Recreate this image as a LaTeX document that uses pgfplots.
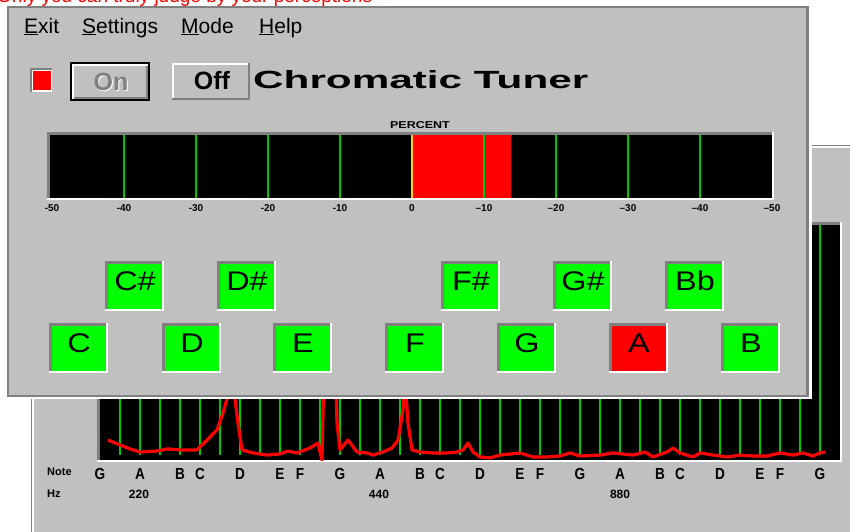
\documentclass[border=0pt]{standalone}
\usepackage{pgfplots}
\pgfplotsset{compat=1.18}
\usepackage{pgfplotstable}
\usepackage{graphicx}
\usepackage{fontspec}
\setmainfont{Liberation Sans}
\definecolor{win}{HTML}{C0C0C0}
\definecolor{dgray}{HTML}{808080}
\definecolor{bgreen}{HTML}{00FF00}
\definecolor{lgreen}{HTML}{00C800}
\definecolor{wred}{HTML}{FF0000}
\definecolor{wyel}{HTML}{FFD200}

\pgfplotstableread{
n a
0.4 0.085
1.0 0.064
1.5 0.047
2.0 0.034
2.85 0.038
3.35 0.047
4.0 0.043
4.85 0.043
5.35 0.085
5.85 0.128
6.15 0.2
6.35 0.26
6.55 1.0
6.75 0.26
6.9 0.157
7.1 0.043
7.65 0.03
8.35 0.021
9.0 0.026
9.4 0.038
9.85 0.03
10.5 0.051
10.9 0.072
11.1 0.0
11.25 0.6
11.45 1.0
11.7 0.6
11.85 0.157
12.0 0.043
12.4 0.085
12.85 0.034
13.35 0.03
13.65 0.021
14.15 0.034
14.6 0.051
14.9 0.085
15.15 0.213
15.25 0.35
15.4 0.157
15.6 0.043
16.0 0.034
16.65 0.03
17.35 0.03
17.85 0.034
18.15 0.043
18.4 0.072
18.65 0.034
19.0 0.013
19.5 0.009
20.0 0.021
21.0 0.03
21.65 0.013
22.35 0.013
23.0 0.017
23.5 0.03
24.0 0.017
25.0 0.021
25.65 0.03
26.65 0.021
27.25 0.034
27.65 0.013
28.35 0.034
28.65 0.051
29.0 0.03
29.65 0.013
30.0 0.03
30.65 0.021
31.35 0.013
32.0 0.021
32.65 0.017
33.35 0.017
34.0 0.03
34.65 0.021
35.15 0.03
35.65 0.017
36.0 0.03
36.25 0.034
}\spec

\newcommand{\notebtn}[4]{%
  \fill[white] (#1,-#2) rectangle ++(59,-50);
  \fill[dgray] (#1,-#2) rectangle ++(57,-48);
  \fill[#4] ({#1+3},{-#2-3}) rectangle ({#1+57},{-#2-48});
  \node[inner sep=0pt, font=\fontsize{27}{27}\selectfont] at ({#1+30},{-#2-20}) {\scalebox{1.2}[1]{#3}};
}

\begin{document}
\begin{tikzpicture}[x=1pt,y=1pt]
\fill[white] (0,0) rectangle (850,-531);
\useasboundingbox (0,0) rectangle (850,-531);
% cut red text at the very top
\begin{scope}
\clip (0,0) rectangle (850,-8);
\node[anchor=base west, inner sep=0pt, text=wred, font=\fontsize{19}{19}\selectfont] at (-3,-2.5) {Only you can truly judge by your perceptions};
\end{scope}
% back window
\fill[dgray] (31,-145) rectangle (852,-535);
\fill[white] (32,-146) rectangle (852,-535);
\fill[win] (34,-148) rectangle (852,-535);
% spectrum bevel
\fill[white] (97,-222) rectangle (842,-462);
\fill[dgray] (97,-222) rectangle (840,-460);
\begin{axis}[at={(100pt,-225pt)}, anchor=north west, scale only axis,
  width=740pt, height=235pt, xmin=0, xmax=37, ymin=0, ymax=1,
  axis background/.style={fill=black}, axis line style={draw=none},
  tick style={draw=none}, ytick=\empty,
  xtick={0,2,4,5,7,9,10,12,14,16,17,19,21,22,24,26,28,29,31,33,34,36},
  xticklabels={G,A,B,C,D,E,F,G,A,B,C,D,E,F,G,A,B,C,D,E,F,G},
  xticklabel style={font=\bfseries\fontsize{16}{16}\selectfont, inner sep=0pt, anchor=north, yshift=-8pt, xscale=0.85}]
\pgfplotsinvokeforeach{1,...,36}{\addplot[lgreen, line width=2.1pt] coordinates {(#1,0.021) (#1,1)};}
\addplot[wred, line width=3.2pt, line join=round] table[x=n,y=a] {\spec};
\end{axis}
\node[anchor=north west, inner sep=0pt, font=\bfseries\fontsize{11}{11}\selectfont] at (47,-468) {Note};
\node[anchor=north west, inner sep=0pt, font=\bfseries\fontsize{11}{11}\selectfont] at (47,-490) {Hz};
\node[anchor=north, inner sep=0pt, font=\bfseries\fontsize{12}{12}\selectfont] at (139,-490) {220};
\node[anchor=north, inner sep=0pt, font=\bfseries\fontsize{12}{12}\selectfont] at (379,-490) {440};
\node[anchor=north, inner sep=0pt, font=\bfseries\fontsize{12}{12}\selectfont] at (620,-490) {880};
% front window
\fill[white] (7,-6) rectangle (812,-399);
\fill[dgray] (7,-6) rectangle (809,-397);
\fill[win] (9,-8) rectangle (806,-395);
% menu
\node[anchor=base west, inner sep=0pt, font=\fontsize{21}{21}\selectfont] at (24,-33) {\underline{E}xit};
\node[anchor=base west, inner sep=0pt, font=\fontsize{21}{21}\selectfont] at (82,-33) {\underline{S}ettings};
\node[anchor=base west, inner sep=0pt, font=\fontsize{21}{21}\selectfont] at (181,-33) {\underline{M}ode};
\node[anchor=base west, inner sep=0pt, font=\fontsize{21}{21}\selectfont] at (259,-33) {\underline{H}elp};
% indicator
\fill[dgray] (30,-68) rectangle (52,-92);
\fill[white] (32,-70) rectangle (52,-92);
\fill[wred] (33,-71) rectangle (51,-90);
% On button (default, disabled)
\fill[black] (70,-62) rectangle (150,-101);
\fill[white] (72,-64) rectangle (148,-99);
\fill[dgray] (74,-66) rectangle (148,-99);
\fill[win] (74,-66) rectangle (146,-97);
\node[inner sep=0pt, text=white, font=\bfseries\fontsize{25}{25}\selectfont] at (112,-83) {On};
\node[inner sep=0pt, text=dgray, font=\bfseries\fontsize{25}{25}\selectfont] at (111,-82) {On};
% Off button
\fill[dgray] (172,-63) rectangle (250,-100);
\fill[white] (172,-63) rectangle (248,-98);
\fill[win] (174,-65) rectangle (248,-98);
\node[inner sep=0pt, font=\bfseries\fontsize{25}{25}\selectfont] at (212,-81) {Off};
% title
\node[anchor=south west, inner sep=0pt] at (253,-89) {\resizebox{335pt}{18pt}{\bfseries Chromatic Tuner}};
% percent bar
\fill[white] (47,-132) rectangle (774,-200);
\fill[dgray] (47,-132) rectangle (772,-198);
\begin{axis}[at={(50pt,-135pt)}, anchor=north west, scale only axis,
  width=722pt, height=63pt, xmin=-50.28, xmax=50, ymin=0, ymax=1,
  axis background/.style={fill=black}, axis line style={draw=none},
  tick style={draw=none}, ytick=\empty,
  xtick={-50,-40,-30,-20,-10,0,10,20,30,40,50},
  xticklabels={-50,-40,-30,-20,-10,0,\textendash10,\textendash20,\textendash30,\textendash40,\textendash50},
  xticklabel style={font=\bfseries\fontsize{10}{10}\selectfont, inner sep=0pt, anchor=north, yshift=-6pt}]
\addplot[fill=wred, draw=none] coordinates {(0,0) (0,1) (13.7,1) (13.7,0)} -- cycle;
\addplot[ycomb, lgreen, line width=2.1pt] coordinates {(-40,1) (-30,1) (-20,1) (-10,1) (10,1) (20,1) (30,1) (40,1)};
\addplot[ycomb, wyel, line width=2.1pt] coordinates {(0,1)};
\end{axis}
\node[inner sep=0pt, font=\bfseries\fontsize{10}{10}\selectfont] at (420,-125) {\scalebox{1.25}[1]{PERCENT}};
% note buttons
\notebtn{105}{261}{C\#}{bgreen}
\notebtn{217}{261}{D\#}{bgreen}
\notebtn{441}{261}{F\#}{bgreen}
\notebtn{553}{261}{G\#}{bgreen}
\notebtn{665}{261}{Bb}{bgreen}
\notebtn{49}{323}{C}{bgreen}
\notebtn{162}{323}{D}{bgreen}
\notebtn{273}{323}{E}{bgreen}
\notebtn{385}{323}{F}{bgreen}
\notebtn{497}{323}{G}{bgreen}
\notebtn{609}{323}{A}{wred}
\notebtn{721}{323}{B}{bgreen}
\end{tikzpicture}
\end{document}
